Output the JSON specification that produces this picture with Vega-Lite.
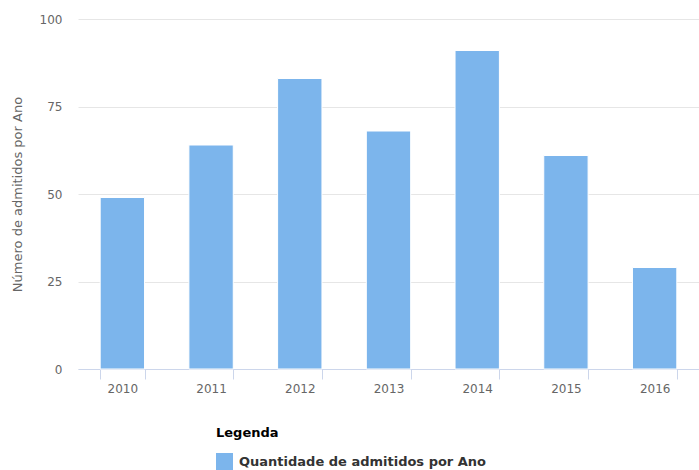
{
  "$schema": "https://vega.github.io/schema/vega-lite/v6.json",
  "width": 621,
  "height": 350,
  "autosize": {"type": "none"},
  "padding": {"left": 78, "top": 19, "right": 0, "bottom": 101},
  "config": {"font": "DejaVu Sans", "view": {"stroke": null}},
  "data": {
    "values": [
      {"ano": "2010", "valor": 49, "serie": "Quantidade de admitidos por Ano"},
      {"ano": "2011", "valor": 64, "serie": "Quantidade de admitidos por Ano"},
      {"ano": "2012", "valor": 83, "serie": "Quantidade de admitidos por Ano"},
      {"ano": "2013", "valor": 68, "serie": "Quantidade de admitidos por Ano"},
      {"ano": "2014", "valor": 91, "serie": "Quantidade de admitidos por Ano"},
      {"ano": "2015", "valor": 61, "serie": "Quantidade de admitidos por Ano"},
      {"ano": "2016", "valor": 29, "serie": "Quantidade de admitidos por Ano"}
    ]
  },
  "mark": {"type": "bar", "stroke": "white", "strokeWidth": 1},
  "encoding": {
    "x": {
      "field": "ano",
      "type": "ordinal",
      "scale": {"paddingInner": 0.5, "paddingOuter": 0.25},
      "axis": {
        "title": null,
        "labelAngle": 0,
        "domainColor": "#ccd6eb",
        "tickColor": "#ccd6eb",
        "tickSize": 10,
        "tickBand": "extent",
        "labelColor": "#666666",
        "labelFontSize": 12,
        "labelPadding": 4,
        "grid": false
      }
    },
    "y": {
      "field": "valor",
      "type": "quantitative",
      "scale": {"domain": [0, 100]},
      "axis": {
        "values": [0, 25, 50, 75, 100],
        "title": "Número de admitidos por Ano",
        "titleColor": "#666666",
        "titleFontSize": 13,
        "titleFontWeight": "normal",
        "titlePadding": 15,
        "domain": false,
        "ticks": false,
        "labelPadding": 16,
        "labelColor": "#666666",
        "labelFontSize": 12,
        "gridColor": "#e6e6e6"
      }
    },
    "color": {
      "field": "serie",
      "type": "nominal",
      "scale": {"range": ["#7cb5ec"]},
      "legend": {
        "title": "Legenda",
        "orient": "none",
        "legendX": 138,
        "legendY": 408,
        "titleFontSize": 13,
        "titleFontWeight": "bold",
        "titleColor": "#000000",
        "titlePadding": 13,
        "labelFontSize": 13,
        "labelFontWeight": "bold",
        "labelColor": "#333333",
        "labelLimit": 400,
        "labelOffset": 6,
        "symbolType": "square",
        "symbolSize": 289,
        "symbolStrokeWidth": 0,
        "symbolOpacity": 1
      }
    }
  }
}
